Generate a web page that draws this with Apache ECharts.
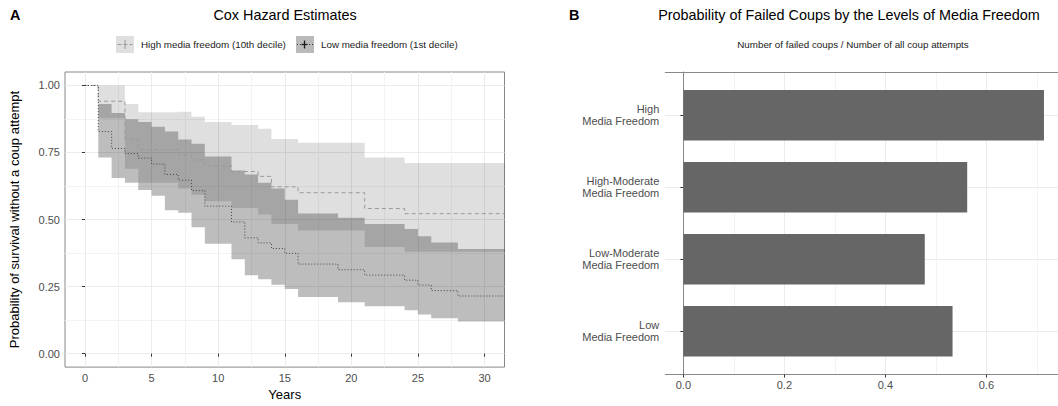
<!DOCTYPE html>
<html><head><meta charset="utf-8">
<script src="https://cdn.jsdelivr.net/npm/echarts@6/dist/echarts.min.js"></script>
<style>html,body{margin:0;padding:0;background:#fff}#c{width:1058px;height:406px}</style>
</head><body><div id="c"></div>
<script>
// ---------- Panel A: Cox survival estimates ----------
const hiName = 'High media freedom (10th decile)';
const loName = 'Low media freedom (1st decile)';
const hiTimes = [0, 1, 3, 4, 7, 8, 9, 11, 13, 14, 16, 21, 24, 31.5];
const hiSurv  = [1, 0.941, 0.80, 0.761, 0.741, 0.722, 0.70, 0.679, 0.661, 0.622, 0.60, 0.541, 0.522, 0.522];
const hiBandTimes = [1, 3, 4, 7, 8, 9, 11, 13, 14, 16, 21, 24, 31.5];
const hiUpper = [1.0, 0.931, 0.90, 0.902, 0.883, 0.864, 0.852, 0.838, 0.80, 0.786, 0.731, 0.711, 0.711];
const hiLower = [0.878, 0.689, 0.637, 0.616, 0.592, 0.568, 0.543, 0.519, 0.483, 0.459, 0.398, 0.38, 0.38];
const loTimes = [0, 1, 2, 3, 4, 5, 6, 7, 8, 9, 11, 12, 13, 14, 15, 16, 19, 21, 24, 25, 26, 28, 31.5];
const loSurv  = [1, 0.828, 0.765, 0.746, 0.729, 0.707, 0.668, 0.647, 0.608, 0.55, 0.491, 0.432, 0.413, 0.392, 0.374, 0.334, 0.313, 0.293, 0.274, 0.256, 0.235, 0.215, 0.215];
const loBandTimes = [1, 2, 3, 4, 5, 6, 7, 8, 9, 11, 12, 13, 14, 15, 16, 19, 21, 24, 25, 26, 28, 31.5];
const loUpper = [0.931, 0.897, 0.874, 0.864, 0.846, 0.828, 0.798, 0.783, 0.735, 0.683, 0.668, 0.637, 0.616, 0.574, 0.523, 0.507, 0.483, 0.465, 0.438, 0.414, 0.39, 0.39];
const loLower = [0.731, 0.655, 0.637, 0.61, 0.589, 0.535, 0.525, 0.471, 0.41, 0.352, 0.292, 0.277, 0.257, 0.241, 0.211, 0.192, 0.177, 0.162, 0.146, 0.132, 0.12, 0.12];
const xTicksA = [0, 5, 10, 15, 20, 25, 30];
const xMinorA = [2.5, 7.5, 12.5, 17.5, 22.5, 27.5];
const yTicksA = [0, 0.25, 0.5, 0.75, 1];
const yTickLabelsA = ['0.00', '0.25', '0.50', '0.75', '1.00'];
const yMinorA = [0.125, 0.375, 0.625, 0.875];

// ---------- Panel B: failed coups ----------
const categoriesB = ['Low\nMedia Freedom', 'Low-Moderate\nMedia Freedom', 'High-Moderate\nMedia Freedom', 'High\nMedia Freedom'];
const failedShare = [0.533, 0.478, 0.562, 0.714];
const xTicksB = [0, 0.2, 0.4, 0.6];
const xTickLabelsB = ['0.0', '0.2', '0.4', '0.6'];
const xMinorB = [0.1, 0.3, 0.5, 0.7];
const yTicksB = [1, 2, 3, 4];

const FONT = 'Liberation Sans, Arial, Helvetica, sans-serif';
const zip = (a, b) => a.map((v, i) => [v, b[i]]);

// step-shaped confidence band drawn as one polygon through the axis scales
function bandRenderer(times, upper, lower, fill) {
  return function (params, api) {
    if (params.dataIndex !== 0) return null;
    const pts = [];
    for (let i = 0; i < times.length - 1; i++) {
      pts.push(api.coord([times[i], upper[i]]));
      pts.push(api.coord([times[i + 1], upper[i]]));
    }
    for (let i = times.length - 2; i >= 0; i--) {
      pts.push(api.coord([times[i + 1], lower[i]]));
      pts.push(api.coord([times[i], lower[i]]));
    }
    return {type: 'polygon', shape: {points: pts}, style: {fill: fill, stroke: null}};
  };
}

const chart = echarts.init(document.getElementById('c'), null, {renderer: 'svg'});
const gridLine = {show: true, lineStyle: {color: '#ebebeb', width: 1}};
const minorLine = {show: true, lineStyle: {color: '#f3f3f3', width: 1}};
const tickStyle = {lineStyle: {color: '#333', width: 1}, length: 3};
const labelStyle = {color: '#4d4d4d', fontSize: 11, fontFamily: FONT};
const frameLine = {show: true, lineStyle: {color: '#888', width: 1}};
const B_MIN = -0.0358, B_MAX = 0.7418;

chart.setOption({
  animation: false,
  textStyle: {fontFamily: FONT},
  title: [
    {text: 'A', left: 10, top: 8, padding: 0, textStyle: {fontSize: 14.4, fontWeight: 'bold', color: '#000', fontFamily: FONT}},
    {text: 'Cox Hazard Estimates', left: 285, top: 8, padding: 0, textAlign: 'center', textStyle: {fontSize: 14.4, fontWeight: 'normal', color: '#000', fontFamily: FONT}},
    {text: 'B', left: 569, top: 8, padding: 0, textStyle: {fontSize: 14.4, fontWeight: 'bold', color: '#000', fontFamily: FONT}},
    {text: 'Probability of Failed Coups by the Levels of Media Freedom', left: 849, top: 8, padding: 0, textAlign: 'center', textStyle: {fontSize: 14.4, fontWeight: 'normal', color: '#000', fontFamily: FONT}},
    {text: 'Number of failed coups / Number of all coup attempts', left: 853, top: 39, padding: 0, textAlign: 'center', textStyle: {fontSize: 9.8, fontWeight: 'normal', color: '#1a1a1a', fontFamily: FONT}}
  ],
  legend: [
    {left: 116, top: 36, padding: 0, itemWidth: 18, itemHeight: 17, selectedMode: false,
     data: [{name: hiName, icon: 'rect', itemStyle: {color: '#dfdfdf', borderWidth: 0}}],
     textStyle: {fontSize: 9.8, color: '#1a1a1a', fontFamily: FONT, padding: [0, 0, 0, 2]}},
    {left: 296, top: 36, padding: 0, itemWidth: 18, itemHeight: 17, selectedMode: false,
     data: [{name: loName, icon: 'rect', itemStyle: {color: '#bababa', borderWidth: 0}}],
     textStyle: {fontSize: 9.8, color: '#1a1a1a', fontFamily: FONT, padding: [0, 0, 0, 2]}}
  ],
  graphic: [
    {type: 'line', z: 100, shape: {x1: 117.5, y1: 44.5, x2: 132.5, y2: 44.5}, style: {stroke: '#9a9a9a', lineWidth: 1, lineDash: [4, 2]}},
    {type: 'line', z: 100, shape: {x1: 125, y1: 40, x2: 125, y2: 49}, style: {stroke: '#9a9a9a', lineWidth: 1}},
    {type: 'line', z: 100, shape: {x1: 297, y1: 44.5, x2: 313, y2: 44.5}, style: {stroke: '#333', lineWidth: 1, lineDash: [1, 2]}},
    {type: 'line', z: 100, shape: {x1: 301.5, y1: 44.5, x2: 307.5, y2: 44.5}, style: {stroke: '#1a1a1a', lineWidth: 1.3}},
    {type: 'line', z: 100, shape: {x1: 304.5, y1: 40.5, x2: 304.5, y2: 48.5}, style: {stroke: '#1a1a1a', lineWidth: 1.3}}
  ],
  grid: [
    {left: 65, top: 72, width: 439.5, height: 302.5, show: true, borderColor: '#888', borderWidth: 1, backgroundColor: 'transparent'},
    {left: 665.3, top: 72, width: 392.7, height: 302.5, show: false},
    {left: 665.3, top: 79.2, width: 392.7, height: 288.1, show: false}
  ],
  xAxis: [
    {type: 'value', gridIndex: 0, min: -1.5, max: 31.5, axisLine: {show: false},
     axisTick: Object.assign({show: true, customValues: xTicksA}, tickStyle),
     axisLabel: Object.assign({customValues: xTicksA, margin: 5}, labelStyle),
     splitLine: gridLine,
     name: 'Years', nameLocation: 'middle', nameGap: 18,
     nameTextStyle: {fontSize: 13, color: '#000', fontFamily: FONT}},
    {type: 'value', gridIndex: 0, min: -1.5, max: 31.5, axisLine: {show: false},
     axisTick: {show: false, customValues: xMinorA}, axisLabel: {show: false}, splitLine: minorLine},
    {type: 'value', gridIndex: 1, min: B_MIN, max: B_MAX, position: 'bottom', axisLine: frameLine,
     axisTick: Object.assign({show: true, customValues: xTicksB}, tickStyle),
     axisLabel: Object.assign({customValues: xTicksB, margin: 5, formatter: (v) => xTickLabelsB[xTicksB.indexOf(v)]}, labelStyle),
     splitLine: gridLine},
    {type: 'value', gridIndex: 1, min: B_MIN, max: B_MAX, position: 'top', axisLine: frameLine,
     axisTick: {show: false, customValues: xMinorB}, axisLabel: {show: false}, splitLine: minorLine},
    {type: 'value', gridIndex: 2, min: B_MIN, max: B_MAX, show: false}
  ],
  yAxis: [
    {type: 'value', gridIndex: 0, min: -0.05, max: 1.05, axisLine: {show: false},
     axisTick: Object.assign({show: true, customValues: yTicksA}, tickStyle),
     axisLabel: Object.assign({customValues: yTicksA, margin: 5, formatter: (v) => yTickLabelsA[yTicksA.indexOf(v)]}, labelStyle),
     splitLine: gridLine,
     name: 'Probability of survival without a coup attempt', nameLocation: 'middle', nameGap: 44,
     nameTextStyle: {fontSize: 13, color: '#000', fontFamily: FONT}},
    {type: 'value', gridIndex: 0, min: -0.05, max: 1.05, axisLine: {show: false},
     axisTick: {show: false, customValues: yMinorA}, axisLabel: {show: false}, splitLine: minorLine},
    {type: 'value', gridIndex: 1, min: 0.4, max: 4.6, position: 'left', axisLine: frameLine,
     axisTick: Object.assign({show: true, customValues: yTicksB}, tickStyle),
     axisLabel: Object.assign({customValues: yTicksB, margin: 6, lineHeight: 12, align: 'right',
       formatter: (v) => categoriesB[Math.round(v) - 1]}, labelStyle),
     splitLine: gridLine},
    {type: 'category', gridIndex: 2, data: categoriesB, show: false}
  ],
  series: [
    {name: hiName, type: 'custom', xAxisIndex: 0, yAxisIndex: 0, silent: true, z: 1,
     renderItem: bandRenderer(hiBandTimes, hiUpper, hiLower, 'rgba(0,0,0,0.125)'),
     data: hiBandTimes.map((t, i) => [t, hiLower[i], hiUpper[i]]), encode: {x: 0, y: [1, 2]}},
    {name: loName, type: 'custom', xAxisIndex: 0, yAxisIndex: 0, silent: true, z: 2,
     renderItem: bandRenderer(loBandTimes, loUpper, loLower, 'rgba(0,0,0,0.26)'),
     data: loBandTimes.map((t, i) => [t, loLower[i], loUpper[i]]), encode: {x: 0, y: [1, 2]}},
    {name: hiName, type: 'line', xAxisIndex: 0, yAxisIndex: 0, step: 'end', symbol: 'none', silent: true,
     lineStyle: {color: '#9a9a9a', width: 1, type: [4, 3]}, data: zip(hiTimes, hiSurv), z: 5},
    {name: loName, type: 'line', xAxisIndex: 0, yAxisIndex: 0, step: 'end', symbol: 'none', silent: true,
     lineStyle: {color: '#444', width: 1, type: [1, 2]}, data: zip(loTimes, loSurv), z: 5},
    {name: 'Failed coups share', type: 'bar', xAxisIndex: 4, yAxisIndex: 3, barWidth: '70%', silent: true,
     itemStyle: {color: '#666666'}, data: failedShare}
  ]
});
</script></body></html>
